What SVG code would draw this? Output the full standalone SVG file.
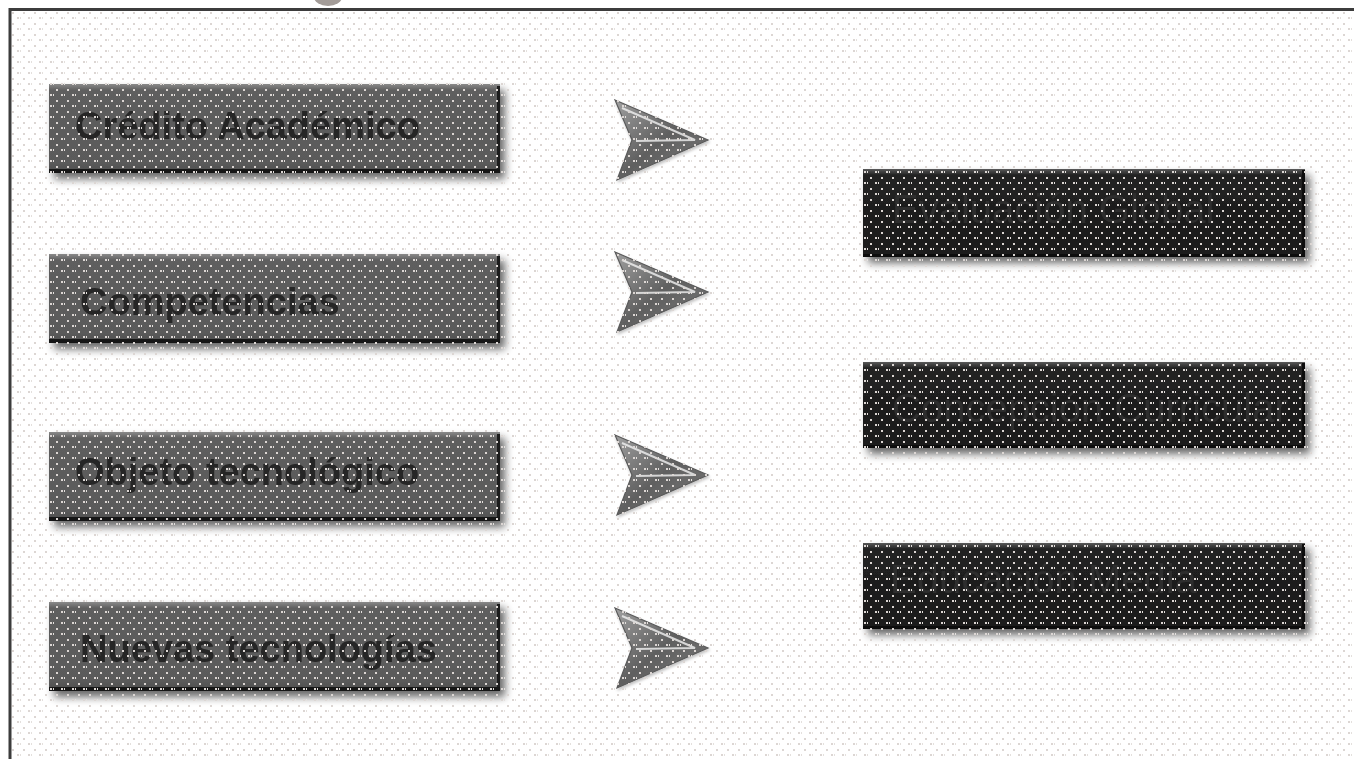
<svg xmlns="http://www.w3.org/2000/svg" width="1354" height="759" viewBox="0 0 1354 759">
<style>
.lbl{font-family:"Liberation Sans",Arial,sans-serif;font-weight:bold;font-size:38px;fill:#262626}
.rlbl{font-family:"Liberation Sans",Arial,sans-serif;font-size:40px;fill:#2f2f2f}
.gbox{fill:url(#gGray)}
.dbox{fill:url(#gDark)}
.edgeR{fill:#1e1e1e}
.edgeB{fill:#141414}
.arrow{fill:url(#gArrow);stroke:#5a5a5a;stroke-width:1.2}
.arrowIn{fill:none;stroke:#f2f2f2;stroke-opacity:0.8;stroke-width:2}
</style>
<defs>
<linearGradient id="gGray" x1="0" y1="0" x2="0" y2="1">
<stop offset="0" stop-color="#8a8a8a"/>
<stop offset="0.07" stop-color="#5e5e5e"/>
<stop offset="0.9" stop-color="#5a5a5a"/>
<stop offset="1" stop-color="#4a4a4a"/>
</linearGradient>
<linearGradient id="gDark" x1="0" y1="0" x2="0" y2="1">
<stop offset="0" stop-color="#5a5a5a"/>
<stop offset="0.07" stop-color="#222"/>
<stop offset="1" stop-color="#1a1a1a"/>
</linearGradient>
<linearGradient id="gArrow" x1="0" y1="0" x2="1" y2="1">
<stop offset="0" stop-color="#a0a0a0"/>
<stop offset="0.5" stop-color="#606060"/>
<stop offset="1" stop-color="#7a7a7a"/>
</linearGradient>
<filter id="shadow" x="-5%" y="-20%" width="115%" height="150%">
<feGaussianBlur in="SourceAlpha" stdDeviation="4"/>
<feOffset dx="5" dy="6" result="b"/>
<feComponentTransfer><feFuncA type="linear" slope="0.6"/></feComponentTransfer>
<feMerge><feMergeNode/><feMergeNode in="SourceGraphic"/></feMerge>
</filter>
<filter id="ashadow" x="-20%" y="-20%" width="140%" height="140%">
<feGaussianBlur in="SourceAlpha" stdDeviation="1.5"/>
<feOffset dx="1" dy="2"/>
<feComponentTransfer><feFuncA type="linear" slope="0.25"/></feComponentTransfer>
<feMerge><feMergeNode/><feMergeNode in="SourceGraphic"/></feMerge>
</filter>
<pattern id="dots" x="0" y="0" width="11" height="11" patternUnits="userSpaceOnUse">
<rect x="1" y="1" width="2" height="2" fill="#dcd6d3"/>
<rect x="6" y="6" width="2" height="2" fill="#dcd6d3"/>
<rect x="9" y="6" width="1" height="2" fill="#e4e0dd"/>
</pattern>
<clipPath id="clipR2"><rect x="863" y="362" width="442" height="86"/></clipPath>
</defs>
<rect x="0" y="0" width="1354" height="759" fill="#ffffff"/>
<ellipse cx="328" cy="-3" rx="14" ry="9" fill="#a39c98"/>
<path d="M10 1000 V9.5 H1400" fill="none" stroke="#3c3c3c" stroke-width="3"/>

<g id="node-credito" filter="url(#shadow)">
<rect class="gbox" x="49" y="84" width="451" height="89"/>
<rect class="edgeR" x="497" y="86" width="3" height="87"/>
<rect class="edgeB" x="49" y="169" width="451" height="4"/>
<text class="lbl" x="75" y="139">Crédito Académico</text>
</g>
<g id="node-competencias" filter="url(#shadow)">
<rect class="gbox" x="49" y="254" width="451" height="89"/>
<rect class="edgeR" x="497" y="256" width="3" height="87"/>
<rect class="edgeB" x="49" y="339" width="451" height="4"/>
<text class="lbl" x="80" y="315">Competencias</text>
</g>
<g id="node-objeto" filter="url(#shadow)">
<rect class="gbox" x="49" y="432" width="451" height="89"/>
<rect class="edgeR" x="497" y="434" width="3" height="87"/>
<rect class="edgeB" x="49" y="517" width="451" height="4"/>
<text class="lbl" x="75" y="485">Objeto tecnológico</text>
</g>
<g id="node-nuevas" filter="url(#shadow)">
<rect class="gbox" x="49" y="602" width="451" height="89"/>
<rect class="edgeR" x="497" y="604" width="3" height="87"/>
<rect class="edgeB" x="49" y="687" width="451" height="4"/>
<text class="lbl" x="80" y="662">Nuevas tecnologías</text>
</g>

<g id="node-evaluacion" filter="url(#shadow)">
<rect class="dbox" x="863" y="169" width="442" height="88"/>
<rect x="1302" y="170" width="3" height="87" fill="#0c0c0c"/>
<rect x="863" y="254" width="442" height="3" fill="#0a0a0a"/>
<text class="rlbl" x="892" y="223">Evaluación Global</text>
</g>
<g id="node-concepcion" filter="url(#shadow)">
<rect class="dbox" x="863" y="362" width="442" height="86"/>
<rect x="1302" y="363" width="3" height="85" fill="#0c0c0c"/>
<rect x="863" y="445" width="442" height="3" fill="#0a0a0a"/>
<text class="rlbl" x="892" y="422" clip-path="url(#clipR2)">Concepción Curricular</text>
</g>
<g id="node-educacion" filter="url(#shadow)">
<rect class="dbox" x="863" y="543" width="442" height="86"/>
<rect x="1302" y="544" width="3" height="85" fill="#0c0c0c"/>
<rect x="863" y="626" width="442" height="3" fill="#0a0a0a"/>
<text class="rlbl" x="890" y="593">Educación Media</text>
</g>

<g id="connectors" filter="url(#ashadow)">
<g transform="translate(0,0)">
<path class="arrow" d="M615 100 L708 140 L617 180 L632 140 Z"/>
<path class="arrowIn" d="M622 108 L695 140 L636 141"/>
</g>
<g transform="translate(0,152)">
<path class="arrow" d="M615 100 L708 140 L617 180 L632 140 Z"/>
<path class="arrowIn" d="M622 108 L695 140 L636 141"/>
</g>
<g transform="translate(0,335)">
<path class="arrow" d="M615 100 L708 140 L617 180 L632 140 Z"/>
<path class="arrowIn" d="M622 108 L695 140 L636 141"/>
</g>
<g transform="translate(0,508)">
<path class="arrow" d="M615 100 L708 140 L617 180 L632 140 Z"/>
<path class="arrowIn" d="M622 108 L695 140 L636 141"/>
</g>
</g>

<rect x="12" y="11" width="1342" height="748" fill="url(#dots)"/>
</svg>
